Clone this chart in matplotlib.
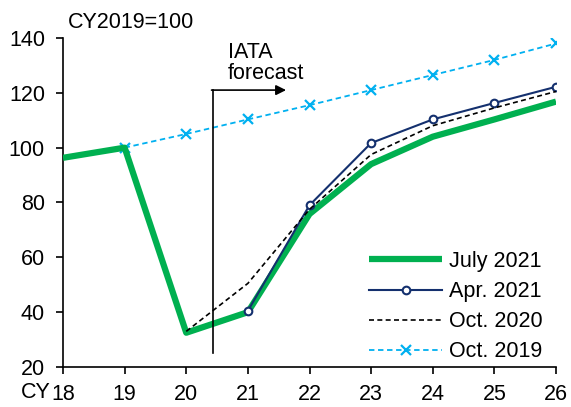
import matplotlib
matplotlib.use("Agg")
import matplotlib.pyplot as plt

plt.rcParams['font.family'] = ['Liberation Sans', 'DejaVu Sans']

years = [18, 19, 20, 21, 22, 23, 24, 25, 26]
tick_labels = ["18", "19", "20", "21", "22", "23", "24", "25", "26"]

jul2021_x = [18, 19, 20, 21, 22, 23, 24, 25, 26]
jul2021 = [96.3, 100, 32.5, 40, 75.8, 94, 104, 110.3, 116.8]

apr2021_x = [21, 22, 23, 24, 25, 26]
apr2021 = [40.5, 79, 101.7, 110.3, 116.3, 122.2]

oct2020_x = [20, 21, 22, 23, 24, 25, 26]
oct2020 = [33, 50.5, 77.5, 97.5, 108, 114.5, 120.5]

oct2019_x = [19, 20, 21, 22, 23, 24, 25, 26]
oct2019 = [100, 105, 110.3, 115.5, 121, 126.5, 132, 138]

FS = 15.5

fig = plt.figure(figsize=(5.71, 4.07), dpi=100)
ax = fig.add_axes([63/571, 1-367/407, (556-63)/571, (367-38)/407])

ax.plot(jul2021_x, jul2021, color='#00B050', lw=4.5, label='July 2021', zorder=3,
        solid_capstyle='butt')
ax.plot(apr2021_x, apr2021, color='#14306E', lw=1.5, marker='o', ms=5.5,
        mfc='white', mec='#14306E', mew=1.5, label='Apr. 2021', zorder=4)
ax.plot(oct2020_x, oct2020, color='black', lw=1.2, ls=(0, (3, 2)), label='Oct. 2020', zorder=4)
ax.plot(oct2019_x, oct2019, color='#00B0F0', lw=1.3, ls=(0, (3, 2)), marker='x', ms=7.5,
        mew=1.6, label='Oct. 2019', zorder=2)

# forecast marker
ax.plot([20.43, 20.43], [25, 121], color='black', lw=1.2, zorder=5)
ax.annotate('', xy=(21.62, 121), xytext=(20.41, 121),
            arrowprops=dict(arrowstyle='-|>', color='black', lw=1.2, mutation_scale=15,
                            shrinkA=0, shrinkB=0))
ax.text(20.67, 130.9, 'IATA\nforecast', fontsize=FS, ha='left', va='center', linespacing=0.95)

ax.set_xlim(18, 26)
ax.set_ylim(20, 140)
ax.set_xticks(years)
ax.set_xticklabels(tick_labels)
ax.set_yticks([20, 40, 60, 80, 100, 120, 140])
ax.tick_params(labelsize=FS, direction='out', length=5, width=1.2)
ax.tick_params(axis='x', pad=7.5)
ax.tick_params(axis='y', pad=8)
for s in ['top', 'right']:
    ax.spines[s].set_visible(False)
for s in ['left', 'bottom']:
    ax.spines[s].set_linewidth(1.2)

fig.text(21/571, 1-393/407, 'CY', fontsize=FS, ha='left', va='center')
fig.text(68/571, 1-23/407, 'CY2019=100', fontsize=FS, ha='left', va='center')

leg = ax.legend(loc='upper left', frameon=False, fontsize=FS, handlelength=3.4,
                handletextpad=0.3, labelspacing=0.42, borderpad=0, borderaxespad=0,
                bbox_to_anchor=(369/571, 1-251/407), bbox_transform=fig.transFigure)

fig.savefig('out.png', dpi=100)
